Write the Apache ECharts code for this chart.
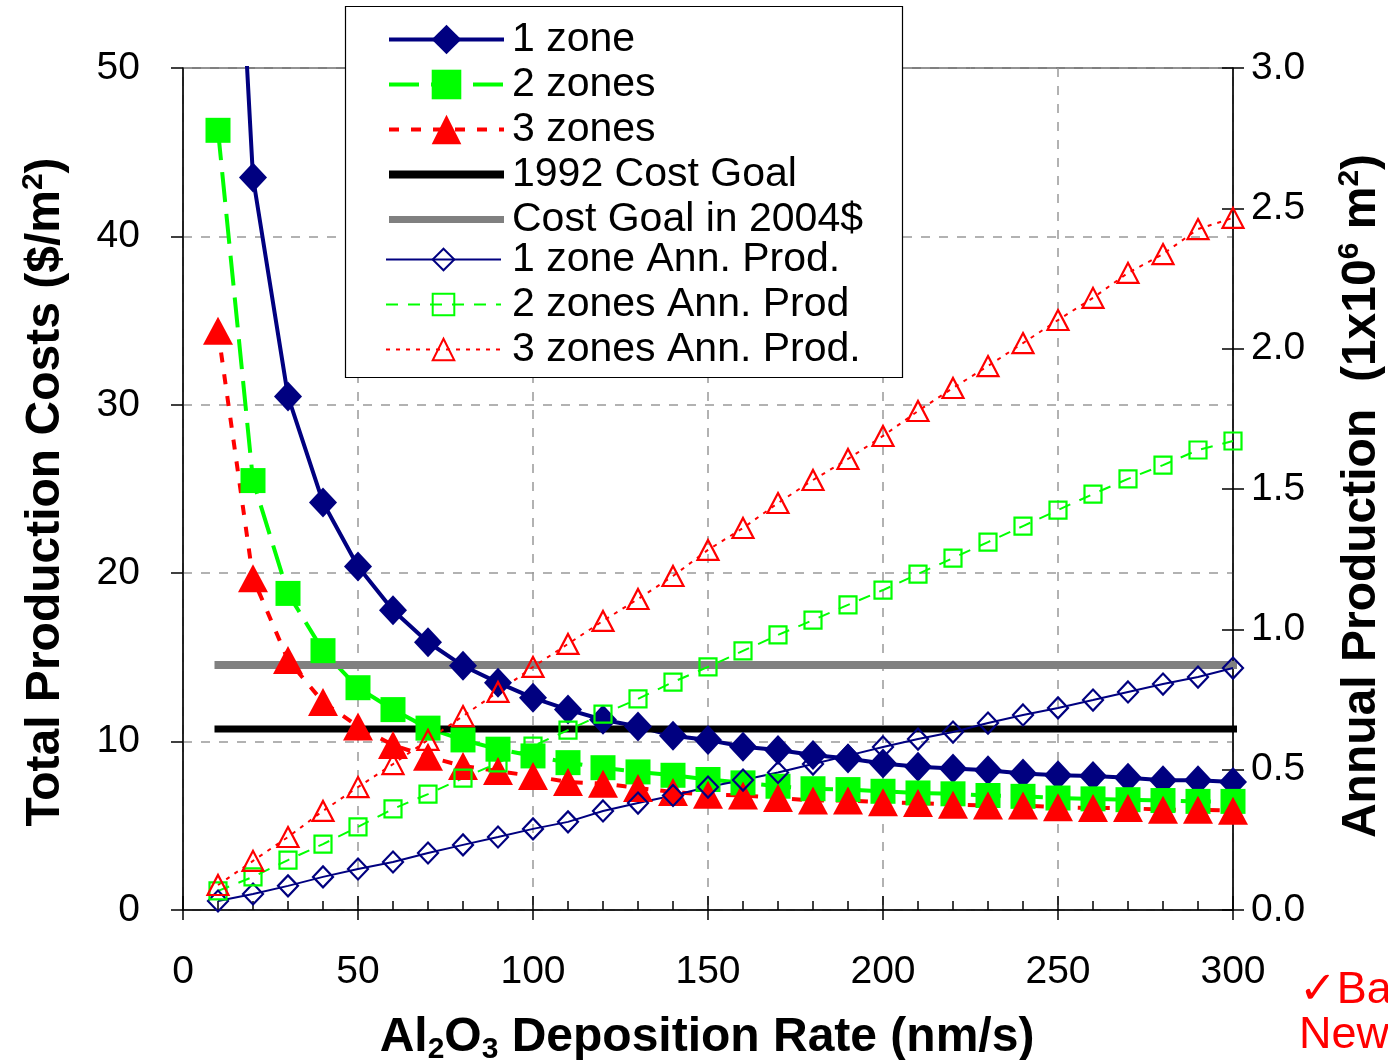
<!DOCTYPE html>
<html>
<head>
<meta charset="utf-8">
<script src="https://cdn.jsdelivr.net/npm/echarts@6/dist/echarts.min.js"></script>
<style>
  html, body { margin: 0; padding: 0; background: #fff; }
  #chart { width: 1388px; height: 1060px; }
</style>
</head>
<body>
<div id="chart"></div>
<script>
// deposition rate (nm/s)
const rates = [10, 20, 30, 40, 50, 60, 70, 80, 90, 100, 110, 120, 130, 140, 150,
               160, 170, 180, 190, 200, 210, 220, 230, 240, 250, 260, 270, 280, 290, 300];

// total production costs ($/m2)
const cost1 = [82, 43.5, 30.5, 24.2, 20.4, 17.8, 15.9, 14.5, 13.5, 12.6, 11.9, 11.3, 10.9, 10.35, 10.1,
               9.7, 9.5, 9.2, 9.0, 8.7, 8.5, 8.4, 8.3, 8.1, 8.0, 7.95, 7.85, 7.7, 7.7, 7.6];
const cost2 = [46.3, 25.5, 18.8, 15.4, 13.2, 11.9, 10.8, 10.1, 9.55, 9.15, 8.75, 8.45, 8.2, 8.0, 7.75,
               7.55, 7.35, 7.2, 7.15, 7.05, 6.95, 6.9, 6.8, 6.75, 6.65, 6.6, 6.55, 6.5, 6.45, 6.45];
const cost3 = [34.4, 19.7, 14.85, 12.35, 10.9, 9.8, 9.1, 8.55, 8.25, 7.95, 7.6, 7.5, 7.25, 7.0, 6.85,
               6.8, 6.65, 6.5, 6.5, 6.4, 6.35, 6.25, 6.2, 6.2, 6.1, 6.05, 6.05, 5.95, 5.95, 5.9];

// annual production (1x10^6 m2)
const prod1 = [0.032, 0.057, 0.086, 0.118, 0.146, 0.171, 0.203, 0.232, 0.26, 0.289, 0.314, 0.353, 0.381, 0.408, 0.438,
               0.463, 0.49, 0.52, 0.55, 0.581, 0.609, 0.634, 0.666, 0.695, 0.72, 0.748, 0.777, 0.805, 0.83, 0.862];
const prod2 = [0.068, 0.118, 0.178, 0.235, 0.296, 0.36, 0.413, 0.47, 0.524, 0.584, 0.641, 0.698, 0.752, 0.812, 0.866,
               0.923, 0.98, 1.033, 1.087, 1.14, 1.197, 1.254, 1.311, 1.368, 1.425, 1.482, 1.536, 1.585, 1.639, 1.671];
const prod3 = [0.089, 0.175, 0.26, 0.353, 0.438, 0.52, 0.606, 0.691, 0.777, 0.866, 0.948, 1.03, 1.108, 1.19, 1.283,
               1.361, 1.45, 1.532, 1.607, 1.689, 1.778, 1.86, 1.938, 2.02, 2.102, 2.181, 2.27, 2.337, 2.426, 2.466];

// cost goals
const goal1992 = 10.75;
const goal2004 = 14.55;
const goalSpan = [9, 304];

const NAVY = '#000080', LIME = '#00ff00', RED = '#ff0000', GRAY = '#808080';
const FONT = 'Arial, "Liberation Sans", sans-serif';

function pairs(vals) {
    return rates.map(function (r, i) { return [r, vals[i]]; });
}
function goalLine(v) {
    return goalSpan.map(function (x) { return [x, v]; });
}

var noMarker = { color: 'rgba(0,0,0,0)', borderWidth: 0 };

var chart = echarts.init(document.getElementById('chart'));

var option = {
    animation: false,
    backgroundColor: '#fff',
    grid: {
        left: 183, right: 155, top: 68, bottom: 150,
        show: true, borderColor: '#000', borderWidth: 1
    },
    legend: [{
        orient: 'vertical',
        left: 385, top: 19,
        padding: 0,
        itemGap: 4,
        itemWidth: 115,
        itemHeight: 37,
        selectedMode: false,
        z: 10,
        textStyle: { fontSize: 41, lineHeight: 39, color: '#000', fontFamily: FONT, padding: [0, 0, 0, 3] },
        data: [
            { name: '1 zone', lineStyle: { width: 4, color: NAVY } },
            { name: '2 zones', lineStyle: { width: 4, color: LIME, type: [30, 12] } },
            { name: '3 zones', lineStyle: { width: 4, color: RED, type: [10, 12] } },
            { name: '1992 Cost Goal', lineStyle: { width: 8, color: '#000' }, itemStyle: noMarker },
            { name: 'Cost Goal in 2004$', lineStyle: { width: 7, color: GRAY }, itemStyle: noMarker }
        ]
    }, {
        orient: 'vertical',
        left: 385, top: 239,
        padding: 0,
        itemGap: 4,
        itemWidth: 115,
        itemHeight: 27,
        selectedMode: false,
        z: 10,
        textStyle: { fontSize: 41, lineHeight: 40, color: '#000', fontFamily: FONT, padding: [0, 0, 0, 6] },
        data: [
            { name: '1 zone Ann. Prod.', lineStyle: { width: 2, color: NAVY }, itemStyle: { borderWidth: 2 } },
            { name: '2 zones Ann. Prod', lineStyle: { width: 2, color: LIME, type: [12, 10] }, itemStyle: { borderWidth: 2 } },
            { name: '3 zones Ann. Prod.', lineStyle: { width: 2, color: RED, type: [4, 6] }, itemStyle: { borderWidth: 2 } }
        ]
    }],
    xAxis: [{
        type: 'value', position: 'bottom',
        min: 0, max: 300, interval: 50,
        axisLine: { onZero: false, lineStyle: { color: '#000', width: 1.5 } },
        axisTick: { inside: false, length: 10, lineStyle: { color: '#000', width: 1.5 } },
        axisLabel: { fontSize: 39, color: '#000', fontFamily: FONT, margin: 43 },
        splitLine: { show: true, lineStyle: { color: '#999', type: [9, 9], width: 1.5 } }
    }, {
        type: 'value', position: 'bottom',
        min: 0, max: 300, interval: 10,
        axisLine: { show: false, onZero: false },
        axisTick: { inside: true, length: 9, lineStyle: { color: '#000', width: 1.5 } },
        axisLabel: { show: false },
        splitLine: { show: false }
    }, {
        type: 'value', position: 'bottom',
        min: 0, max: 300, interval: 50,
        axisLine: { show: false, onZero: false },
        axisTick: { inside: true, length: 14, lineStyle: { color: '#000', width: 1.5 } },
        axisLabel: { show: false },
        splitLine: { show: false }
    }],
    yAxis: [{
        type: 'value', position: 'left',
        min: 0, max: 50, interval: 10,
        axisLine: { show: true, onZero: false, lineStyle: { color: '#000', width: 1.5 } },
        axisTick: { show: true, inside: false, length: 12, lineStyle: { color: '#000', width: 1.5 } },
        axisLabel: { fontSize: 39, color: '#000', fontFamily: FONT, margin: 43 },
        splitLine: { show: true, lineStyle: { color: '#999', type: [9, 9], width: 1.5 } }
    }, {
        type: 'value', position: 'right',
        min: 0, max: 3, interval: 0.5,
        axisLine: { show: true, onZero: false, lineStyle: { color: '#000', width: 1.5 } },
        axisTick: { show: true, inside: false, length: 11, lineStyle: { color: '#000', width: 1.5 } },
        axisLabel: {
            fontSize: 39, color: '#000', fontFamily: FONT, margin: 18,
            formatter: function (v) { return v.toFixed(1); }
        },
        splitLine: { show: false }
    }, {
        type: 'value', position: 'right',
        min: 0, max: 3, interval: 0.5,
        axisLine: { show: false, onZero: false },
        axisTick: { show: true, inside: true, length: 11, lineStyle: { color: '#000', width: 1.5 } },
        axisLabel: { show: false },
        splitLine: { show: false }
    }],
    series: [{
        name: '1 zone', type: 'line', yAxisIndex: 0,
        data: pairs(cost1),
        symbol: 'diamond', symbolSize: [28, 30],
        itemStyle: { color: NAVY },
        lineStyle: { color: NAVY, width: 4 }
    }, {
        name: '2 zones', type: 'line', yAxisIndex: 0,
        data: pairs(cost2),
        symbol: 'rect', symbolSize: 25,
        itemStyle: { color: LIME },
        lineStyle: { color: LIME, width: 4, type: [30, 12] }
    }, {
        name: '3 zones', type: 'line', yAxisIndex: 0,
        data: pairs(cost3),
        symbol: 'triangle', symbolSize: [30, 28],
        itemStyle: { color: RED },
        lineStyle: { color: RED, width: 4, type: [10, 12] }
    }, {
        name: '1992 Cost Goal', type: 'line', yAxisIndex: 0,
        data: goalLine(goal1992), clip: false,
        symbol: 'none',
        itemStyle: { color: '#000' },
        lineStyle: { color: '#000', width: 7 }
    }, {
        name: 'Cost Goal in 2004$', type: 'line', yAxisIndex: 0,
        data: goalLine(goal2004), clip: false,
        symbol: 'none',
        itemStyle: { color: GRAY },
        lineStyle: { color: GRAY, width: 8 }
    }, {
        name: '1 zone Ann. Prod.', type: 'line', yAxisIndex: 1,
        data: pairs(prod1),
        symbol: 'diamond', symbolSize: [20, 21],
        itemStyle: { color: 'rgba(255,255,255,0)', borderColor: NAVY, borderWidth: 2.2 },
        lineStyle: { color: NAVY, width: 2 }
    }, {
        name: '2 zones Ann. Prod', type: 'line', yAxisIndex: 1,
        data: pairs(prod2),
        symbol: 'rect', symbolSize: 17,
        itemStyle: { color: 'rgba(255,255,255,0)', borderColor: LIME, borderWidth: 2.2 },
        lineStyle: { color: LIME, width: 2, type: [12, 10] }
    }, {
        name: '3 zones Ann. Prod.', type: 'line', yAxisIndex: 1,
        data: pairs(prod3),
        symbol: 'triangle', symbolSize: [21, 20],
        itemStyle: { color: 'rgba(255,255,255,0)', borderColor: RED, borderWidth: 2.2 },
        lineStyle: { color: RED, width: 2, type: [4, 6] }
    }],
    graphic: [{
        // legend frame, under the legend items but over the plot
        type: 'rect', z: 5,
        shape: { x: 345.5, y: 6.5, width: 557, height: 371 },
        style: { fill: '#fff', stroke: '#000', lineWidth: 1.2 }
    }, {
        type: 'text', x: 707, y: 1038,
        style: {
            text: '{b|Al}{s|2}{b|O}{s|3}{b| Deposition Rate (nm/s)}',
            align: 'center', verticalAlign: 'middle',
            rich: {
                b: { fontSize: 48, fontWeight: 'bold', fontFamily: FONT, fill: '#000', lineHeight: 54 },
                s: { fontSize: 30, fontWeight: 'bold', fontFamily: FONT, fill: '#000', lineHeight: 30, verticalAlign: 'bottom' }
            }
        }
    }, {
        type: 'text', x: 46, y: 492, rotation: Math.PI / 2,
        style: {
            text: '{b|Total Production Costs ($/m}{s|2}{b|)}',
            align: 'center', verticalAlign: 'middle',
            rich: {
                b: { fontSize: 48, fontWeight: 'bold', fontFamily: FONT, fill: '#000', lineHeight: 54 },
                s: { fontSize: 30, fontWeight: 'bold', fontFamily: FONT, fill: '#000', lineHeight: 30, verticalAlign: 'top' }
            }
        }
    }, {
        type: 'text', x: 1362, y: 496, rotation: Math.PI / 2,
        style: {
            text: '{b|Annual Production  (1x10}{s|6}{b| m}{s|2}{b|)}',
            align: 'center', verticalAlign: 'middle',
            rich: {
                b: { fontSize: 48, fontWeight: 'bold', fontFamily: FONT, fill: '#000', lineHeight: 54 },
                s: { fontSize: 30, fontWeight: 'bold', fontFamily: FONT, fill: '#000', lineHeight: 30, verticalAlign: 'top' }
            }
        }
    }, {
        type: 'text', x: 1299, y: 991,
        style: {
            text: '\u2713Ba', fill: RED, fontSize: 45, fontFamily: 'Arial, "Liberation Sans", "DejaVu Sans", sans-serif',
            verticalAlign: 'middle'
        }
    }, {
        type: 'text', x: 1299, y: 1036,
        style: {
            text: 'New', fill: RED, fontSize: 45, fontFamily: FONT,
            verticalAlign: 'middle'
        }
    }]
};

chart.setOption(option);
</script>
</body>
</html>
